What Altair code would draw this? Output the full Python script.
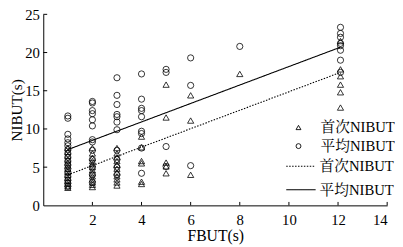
import altair as alt
import pandas as pd

# ---------------- data ----------------
names = ["首次NIBUT", "平均NIBUT"]

# first NIBUT (triangles), per FBUT column
first_x = ([1] * 14 + [2] * 13 + [3] * 11 + [4] * 6 + [5] * 5 + [6] * 3 + [8] * 1 + [12.1] * 6)
first_y = [7.5, 7.0, 6.5, 6.0, 5.6, 5.2, 4.8, 4.4, 4.0, 3.6, 3.2, 2.8, 2.5, 2.3,
           7.5, 6.8, 6.2, 5.8, 5.4, 5.0, 4.6, 4.2, 3.8, 3.4, 3.0, 2.7, 2.4,
           7.5, 6.8, 6.3, 5.8, 5.3, 4.8, 4.3, 3.8, 3.4, 3.0, 2.6,
           9.0, 7.6, 5.8, 5.5, 3.1, 2.8,
           15.8, 11.5, 5.6, 5.1, 4.2,
           14.4, 11.1, 4.0,
           17.2,
           21.5, 17.8, 16.9, 15.8, 14.8, 12.8]

# mean NIBUT (circles), per FBUT column
mean_x = ([1] * 17 + [2] * 13 + [3] * 11 + [4] * 9 + [5] * 4 + [6] * 3 + [8] * 1 + [12.1] * 8)
mean_y = [11.7, 11.4, 9.3, 8.7, 8.2, 7.8, 7.3, 6.8, 6.3, 5.8, 5.3, 4.8, 4.3, 3.8, 3.3, 2.9, 2.5,
          13.6, 13.4, 12.4, 12.0, 11.2, 10.4, 8.6, 8.3, 7.2, 6.0, 5.0, 4.0, 3.0,
          16.7, 14.4, 13.2, 11.9, 11.6, 10.9, 9.9, 7.2, 6.0, 5.0, 4.0,
          17.2, 13.9, 12.7, 12.4, 11.6, 9.7, 9.4, 7.5, 4.2,
          17.8, 17.4, 7.7, 5.1,
          19.3, 15.7, 5.2,
          20.8,
          23.3, 22.5, 22.0, 21.2, 20.9, 20.3, 19.0, 17.4]

# fitted lines (end points)
fit_x = [1, 12.1]
fit_first_y = [4.0, 17.4]
fit_mean_y = [7.3, 20.7]

x_ticks = [2, 4, 6, 8, 10, 12, 14]
y_ticks = [0, 5, 10, 15, 20, 25]

# ---------------- tables ----------------
# line-series keys carry a trailing space so the two legends stay separate
line_names = [n + " " for n in names]

pts_df = pd.concat([
    pd.DataFrame({"x": first_x, "y": first_y, "s": names[0]}),
    pd.DataFrame({"x": mean_x, "y": mean_y, "s": names[1]}),
])
line_df = pd.concat([
    pd.DataFrame({"x": fit_x, "y": fit_first_y, "l": line_names[0]}),
    pd.DataFrame({"x": fit_x, "y": fit_mean_y, "l": line_names[1]}),
])
xt_df = pd.DataFrame({"x": x_ticks, "y0": 0.0, "y1": 0.45})
yt_df = pd.DataFrame({"y": [v for v in y_ticks if v > 0], "x0": 0.0, "x1": 0.16})

FONT = "Liberation Serif, Times New Roman, Noto Serif CJK SC, Noto Sans CJK SC, serif"

xs = alt.Scale(domain=[0, 14], nice=False)
ys = alt.Scale(domain=[0, 25], nice=False)

x_axis = alt.Axis(values=x_ticks, ticks=False, grid=False, labelPadding=8,
                  labelOverlap=False, labelBound=False,
                  title="FBUT(s)", titlePadding=0)
y_axis = alt.Axis(values=y_ticks, ticks=False, grid=False, labelPadding=4,
                  labelOverlap=False, labelBound=False,
                  title="NIBUT(s)", titlePadding=0, titleX=-19, titleFontSize=15.5)

pts = alt.Chart(pts_df).mark_point(filled=False, size=40, strokeWidth=0.8,
                                   color="black", opacity=1).encode(
    x=alt.X("x:Q", scale=xs, axis=x_axis),
    y=alt.Y("y:Q", scale=ys, axis=y_axis),
    shape=alt.Shape("s:N", scale=alt.Scale(domain=names, range=["triangle-up", "circle"]),
                    legend=alt.Legend(title=None, orient="none", legendX=253, legendY=108,
                                      symbolSize=25, symbolStrokeColor="black",
                                      symbolFillColor="transparent", symbolStrokeWidth=0.9,
                                      labelFont=FONT, labelFontSize=15, labelColor="black",
                                      labelOffset=15, rowPadding=3, padding=0)),
)

lines = alt.Chart(line_df).mark_line(color="black", strokeWidth=1.1).encode(
    x=alt.X("x:Q", scale=xs, axis=x_axis),
    y=alt.Y("y:Q", scale=ys, axis=y_axis),
    strokeDash=alt.StrokeDash("l:N", scale=alt.Scale(domain=line_names, range=[[1.5, 1.5], [1, 0]]),
                              legend=alt.Legend(title=None, orient="none", legendX=247, legendY=139,
                                                symbolType="stroke", symbolSize=900,
                                                symbolStrokeColor="black", symbolStrokeWidth=1.1,
                                                labelExpr="trim(datum.label)",
                                                labelFont=FONT, labelFontSize=15, labelColor="black",
                                                labelOffset=3, rowPadding=-3, padding=0)),
)

xtick = alt.Chart(xt_df).mark_rule(color="black", strokeWidth=1).encode(
    x=alt.X("x:Q", scale=xs, axis=x_axis), y=alt.Y("y0:Q", scale=ys, axis=y_axis), y2="y1")
ytick = alt.Chart(yt_df).mark_rule(color="black", strokeWidth=1).encode(
    y=alt.Y("y:Q", scale=ys, axis=y_axis), x=alt.X("x0:Q", scale=xs, axis=x_axis), x2="x1")

chart = alt.layer(pts, lines, xtick, ytick).properties(
    width=351, height=195,
    padding={"left": 36, "top": 4, "right": 8, "bottom": 39},
    autosize=alt.AutoSizeParams(type="none"),
).configure_view(stroke=None).configure_axis(
    domainColor="black", domainWidth=1,
    labelFont=FONT, labelFontSize=15, labelColor="black",
    titleFont=FONT, titleFontSize=16, titleFontWeight="normal", titleColor="black",
)

chart.save("out.html", embed_options={"renderer": "svg", "actions": False})
